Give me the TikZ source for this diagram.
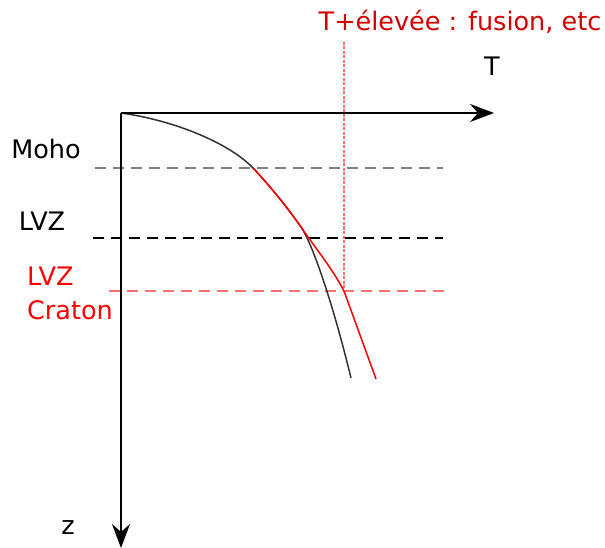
\documentclass[tikz,border=0pt]{standalone}
\usepackage{fontspec}
\setmainfont{DejaVu Sans}
\usetikzlibrary{arrows.meta}
\definecolor{titlered}{HTML}{D40000}
\definecolor{lightred}{HTML}{FF7070}
\tikzset{
  lbl/.style={font=\fontsize{25.5}{30}\selectfont, inner sep=0pt},
  axis/.style={line width=2.2pt, -{Stealth[length=24pt,width=18pt,inset=8pt]}},
  level/.style={line width=1.8pt, dash pattern=on 11pt off 7pt},
  geo/.style={line width=1.5pt}
}
\begin{document}
\begin{tikzpicture}[x=1pt,y=-1pt]
\useasboundingbox (0,0) rectangle (605,548);
% coordinates
\coordinate (O) at (121,113);
\coordinate (Tend) at (494,113);
\coordinate (Zend) at (121,548);
\coordinate (M1) at (95,168);  \coordinate (M2) at (443,168);
\coordinate (L1) at (93,238);  \coordinate (L2) at (443,238);
\coordinate (C1) at (109,291); \coordinate (C2) at (451,291);
\coordinate (V1) at (344,42);  \coordinate (V2) at (344,291);
\coordinate (A) at (253,168);
\coordinate (B) at (301,227);
\coordinate (Bk) at (351,378);
\coordinate (Rd) at (376,379);
% labels
\node[lbl, text=titlered] (title) at (460,22) {T+élevée : fusion, etc};
\node[lbl] (Tlab) at (492,66) {T};
\node[lbl] (zlab) at (68,528) {z};
\node[lbl] (moho) at (46,149) {Moho};
\node[lbl] (lvz) at (42,221) {LVZ};
\node[lbl, text=red, align=left, anchor=west, font=\fontsize{25.5}{34}\selectfont] (lvzc) at (27,293) {LVZ\\Craton};
% levels
\draw[level, draw=gray] (M1) -- (M2);
\draw[level, draw=black] (L1) -- (L2);
\draw[level, draw=lightred] (C1) -- (C2);
\draw[line width=1.3pt, draw=lightred, dash pattern=on 3pt off 1.5pt] (V1) -- (V2);
% geotherms
\draw[geo, draw=black!80] (O) .. controls (172,120) and (228,142) .. (A)
  .. controls (270,186) and (287,207) .. (B)
  .. controls (312,243) and (332,300) .. (Bk);
\draw[geo, draw=red] (A) .. controls (270,186) and (287,207) .. (B)
  .. controls (316,249) and (332,268) .. (V2) -- (Rd);
% axes
\draw[axis] (O) -- (Tend);
\draw[axis] (O) -- (Zend);
\end{tikzpicture}
\end{document}
